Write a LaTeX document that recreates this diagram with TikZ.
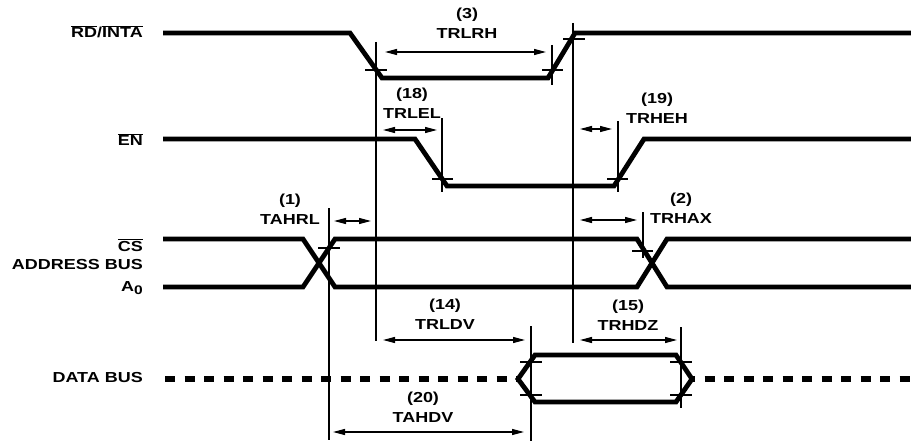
\documentclass[tikz,border=0pt]{standalone}
\usepackage{fontspec}
\setmainfont[FakeStretch=1.24]{Liberation Sans}
\usetikzlibrary{arrows.meta}
\newcommand\ovl[1]{$\overline{\hbox{#1}}$}

\begin{document}
\begin{tikzpicture}[
    x=1pt, y=-1pt,
    font=\fontsize{14.5}{20}\selectfont\bfseries,
    sig/.style={line width=4.8pt, line join=miter},
    bus/.style={sig, line width=5.5pt, dash pattern=on 10pt off 9.5pt},
    guide/.style={line width=1.2pt},
    dim/.style={{Triangle[length=12pt,width=6pt]}-{Triangle[length=12pt,width=6pt]}, line width=1.2pt},
    signame/.style={anchor=base east, inner sep=0pt},
    lbl/.style={anchor=south, inner sep=0pt, align=center}
  ]
  \useasboundingbox (0,0) rectangle (911,444);

  \node[signame] (rd) at (143,38) {\ovl{RD}/\ovl{INTA}};
  \node[signame] (en) at (143,146) {\ovl{EN}};
  \node[signame] (cs) at (143,251) {\ovl{CS}};
  \node[signame] (addr) at (143,269) {ADDRESS BUS};
  \node[signame] (a0) at (143,291) {A\raisebox{-3pt}{\fontsize{12.5}{13}\selectfont 0}};
  \node[signame] (data) at (143,382) {DATA BUS};

  \draw[sig] (163,33) -- (350,33) -- (382,78) -- (548,78) -- (575,33) -- (911,33);
  \draw[sig] (163,139) -- (415,139) -- (447,186) -- (614,186) -- (644,139) -- (911,139);
  \draw[sig] (163,239) -- (303,239) -- (335,287) -- (637,287) -- (667,239) -- (911,239);
  \draw[sig] (163,287) -- (303,287) -- (335,239) -- (637,239) -- (667,287) -- (911,287);
  \draw[sig] (518,379) -- (535,355) -- (676,355) -- (692,379) -- (676,402) -- (535,402) -- cycle;
  \draw[bus] (165,379) -- (518,379);
  \draw[bus, dash phase=7pt] (692,379) -- (911,379);

  \draw[guide] (376,42) -- (376,341);
  \draw[guide] (573,23) -- (573,343);
  \draw[guide] (329,208) -- (329,440);
  \draw[guide] (365,70) -- (387,70);
  \draw[guide] (552,45) -- (552,85) (542,70) -- (563,70);
  \draw[guide] (563,39) -- (585,39);
  \draw[guide] (442,118) -- (442,192) (432,179) -- (453,179);
  \draw[guide] (618,121) -- (618,192) (607,179) -- (628,179);
  \draw[guide] (318,248) -- (340,248);
  \draw[guide] (643,212) -- (643,258) (632,251) -- (653,251);
  \draw[guide] (531,326) -- (531,441) (520,362) -- (542,362) (520,395) -- (542,395);
  \draw[guide] (681,327) -- (681,408) (670,362) -- (692,362) (670,395) -- (692,395);

  \draw[dim] (385,52) -- (546,52);
  \draw[dim] (383,130) -- (437,130);
  \draw[dim] (580,129) -- (612,129);
  \draw[dim] (334,221) -- (371,221);
  \draw[dim] (580,220) -- (637,220);
  \draw[dim] (383,340) -- (525,340);
  \draw[dim] (580,340) -- (677,340);
  \draw[dim] (333,432) -- (524,432);

  \node[lbl] (trlrh) at (467,39) {(3)\\TRLRH};
  \node[lbl] (trlel) at (412,119) {(18)\\TRLEL};
  \node[lbl] (trheh) at (657,124) {(19)\\TRHEH};
  \node[lbl] (tahrl) at (290,225) {(1)\\TAHRL};
  \node[lbl] (trhax) at (681,224) {(2)\\TRHAX};
  \node[lbl] (trldv) at (445,330) {(14)\\TRLDV};
  \node[lbl] (trhdz) at (628,331) {(15)\\TRHDZ};
  \node[lbl] (tahdv) at (423,423) {(20)\\TAHDV};
\end{tikzpicture}
\end{document}
